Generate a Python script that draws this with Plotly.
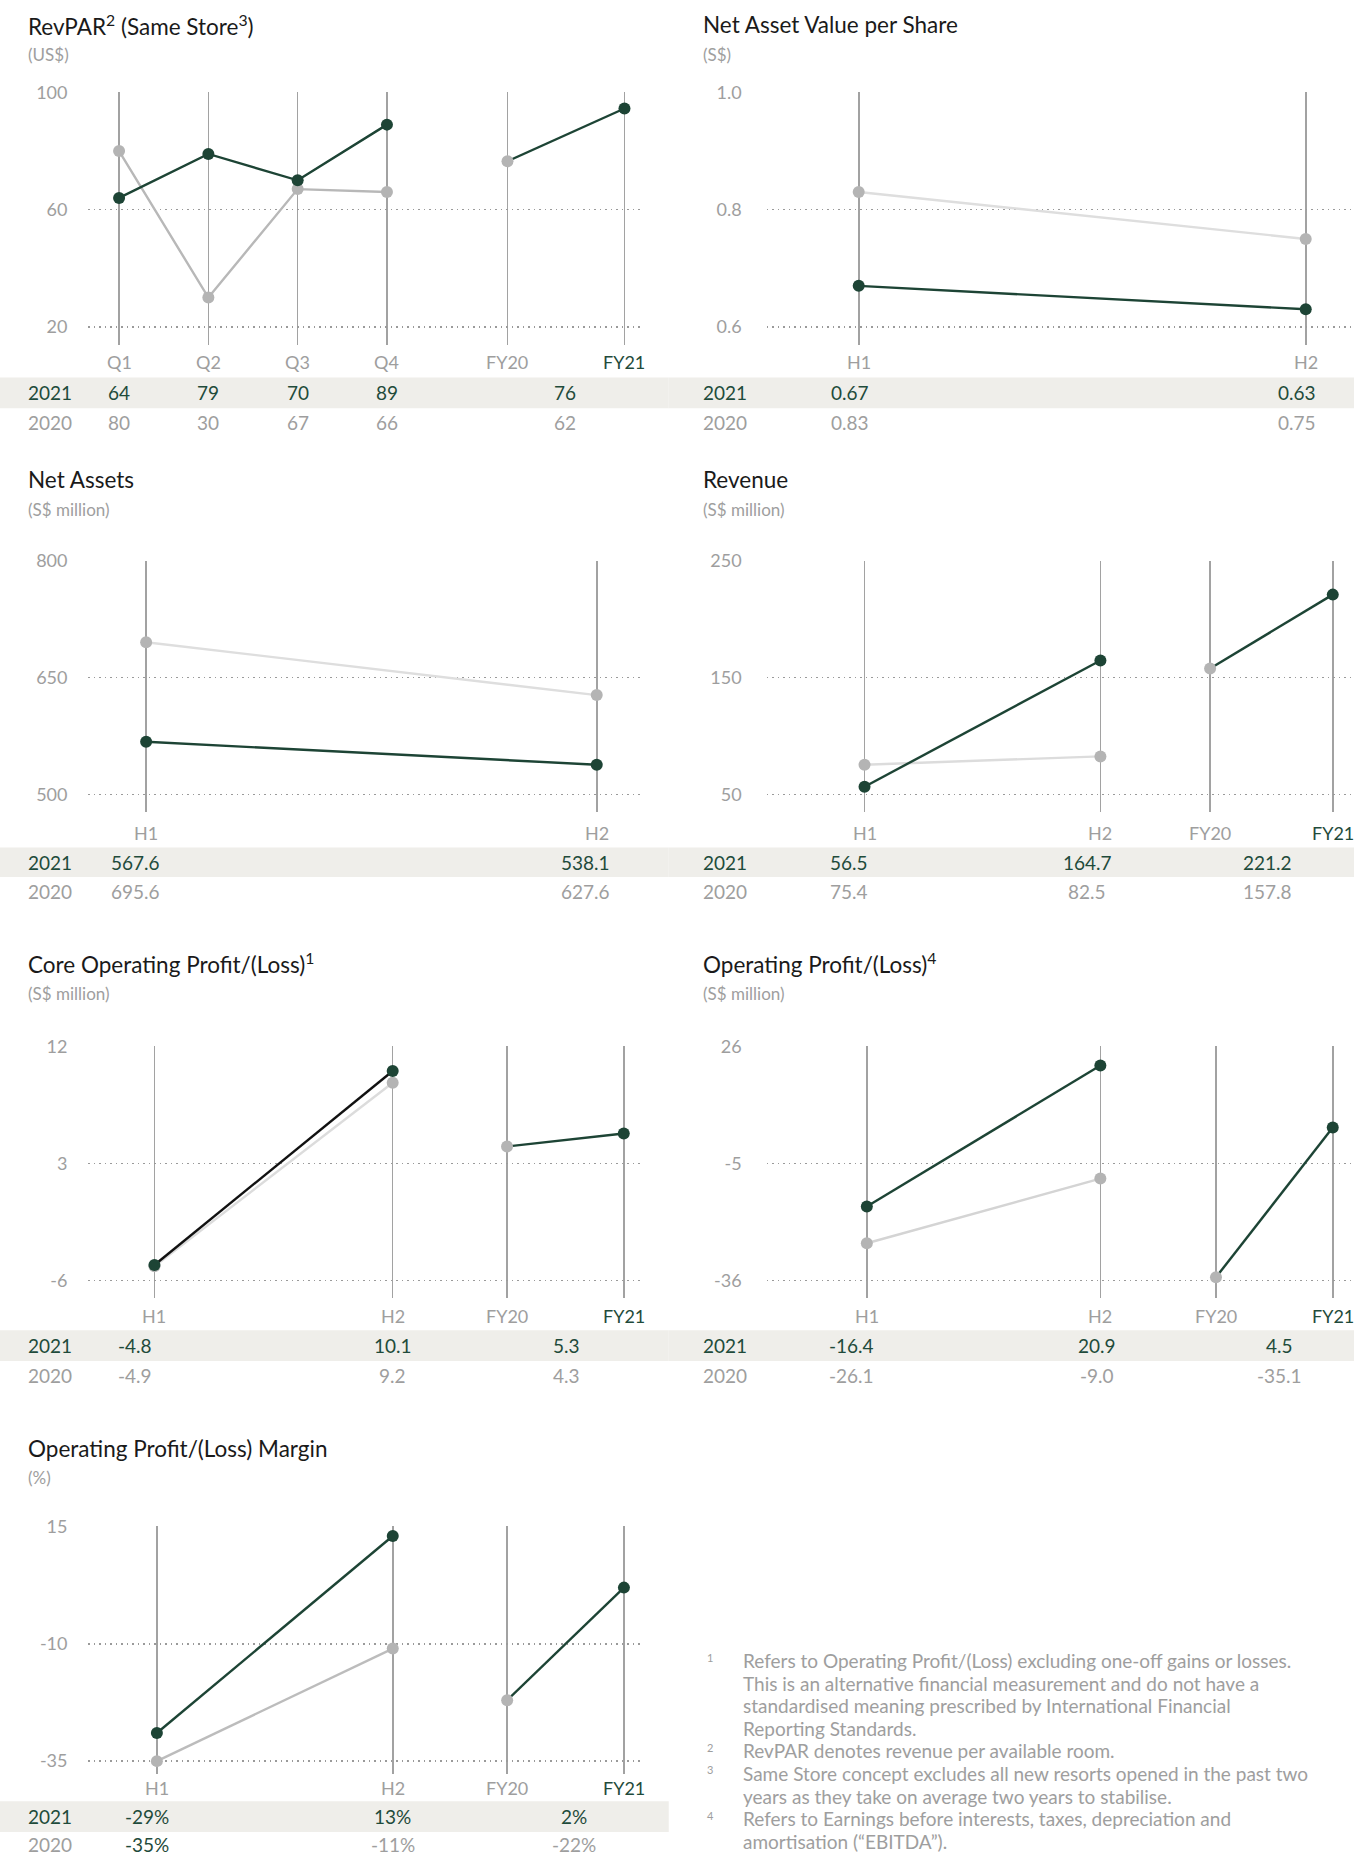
import plotly.graph_objects as go

# ---------------- data ----------------
revpar_cats = ["Q1", "Q2", "Q3", "Q4", "FY20", "FY21"]
revpar_2021 = [64, 79, 70, 89]
revpar_2020 = [80, 30, 67, 66]
revpar_fy = [76.5, 94.5]          # FY20, FY21 as plotted
revpar_row_2021 = ["64", "79", "70", "89", "76"]
revpar_row_2020 = ["80", "30", "67", "66", "62"]

nav_cats = ["H1", "H2"]
nav_2021 = [0.67, 0.63]
nav_2020 = [0.83, 0.75]
nav_row_2021 = ["0.67", "0.63"]
nav_row_2020 = ["0.83", "0.75"]

na_cats = ["H1", "H2"]
na_2021 = [567.6, 538.1]
na_2020 = [695.6, 627.6]
na_row_2021 = ["567.6", "538.1"]
na_row_2020 = ["695.6", "627.6"]

rev_cats = ["H1", "H2", "FY20", "FY21"]
rev_2021 = [56.5, 164.7]
rev_2020 = [75.4, 82.5]
rev_fy = [157.8, 221.2]
rev_row_2021 = ["56.5", "164.7", "221.2"]
rev_row_2020 = ["75.4", "82.5", "157.8"]

core_cats = ["H1", "H2", "FY20", "FY21"]
core_2021 = [-4.8, 10.1]
core_2020 = [-4.9, 9.2]
core_fy = [4.3, 5.3]
core_row_2021 = ["-4.8", "10.1", "5.3"]
core_row_2020 = ["-4.9", "9.2", "4.3"]

op_cats = ["H1", "H2", "FY20", "FY21"]
op_2021 = [-16.4, 20.9]
op_2020 = [-26.1, -9.0]
op_fy = [-35.1, 4.5]
op_row_2021 = ["-16.4", "20.9", "4.5"]
op_row_2020 = ["-26.1", "-9.0", "-35.1"]

mar_cats = ["H1", "H2", "FY20", "FY21"]
mar_2021 = [-29, 13]
mar_2020 = [-35, -11]
mar_fy = [-22, 2]
mar_row_2021 = ["-29%", "13%", "2%"]
mar_row_2020 = ["-35%", "-11%", "-22%"]

footnotes = [
    ("1", ["Refers to Operating Profit/(Loss) excluding one-off gains or losses.",
           "This is an alternative financial measurement and do not have a",
           "standardised meaning prescribed by International Financial",
           "Reporting Standards."]),
    ("2", ["RevPAR denotes revenue per available room."]),
    ("3", ["Same Store concept excludes all new resorts opened in the past two",
           "years as they take on average two years to stabilise."]),
    ("4", ["Refers to Earnings before interests, taxes, depreciation and",
           "amortisation (\u201cEBITDA\u201d)."]),
]

# ---------------- style / layout ----------------
W, H = 1354, 1852
BW, BH = 1148.0, 1568.0     # design grid
FONT = "Lato"
GREEN = "#1d4435"
GREEN_TXT = "#1f4b3b"
GRAY_MK = "#b4b4b4"
GRAY_TXT = "#9e9e9e"
VLINE = "#a2a2a2"
DOT = "#9a9a9a"
BAND = "#efeeea"
TITLE = "#1a1a1a"


def fx(x):
    return x / BW


def fy(y):
    yc = y - 8.5 * (1 - y / BH)
    return 1 - yc / BH


COLS = {
    "L": dict(g0=75, g1=543, lab=22, b0=0, b1=567, stand=20),
    "R": dict(g0=650, g1=1148, lab=594, b0=567, b1=1148, stand=24),
}
ROWS = [
    dict(title=20, sub=45, top=77, low=276, vbot=291, xlab=306, bt=319, bb=345, r1=332, r2=357),
    dict(title=405, sub=431, top=474, low=672, vbot=687, xlab=705, bt=717, bb=742, r1=730, r2=754),
    dict(title=815, sub=841, top=885, low=1084, vbot=1099, xlab=1114, bt=1126, bb=1152, r1=1139, r2=1164),
    dict(title=1226, sub=1251, top=1292, low=1491, vbot=1502, xlab=1514, bt=1525, bb=1551, r1=1538, r2=1562),
]

panels = [
    dict(col="L", row=0, title="RevPAR<sup>2</sup> (Same Store<sup>3</sup>)", sub="(US$)",
         cats=revpar_cats, slots=[0, 1, 2, 3, 4.35, 5.66], xr=[-0.343, 5.839],
         yt=[20, 60, 100], ytxt=["20", "60", "100"],
         s21=revpar_2021, s20=revpar_2020, fy=revpar_fy,
         tcols=[0, 1, 2, 3, 4.99], t21=revpar_row_2021, t20=revpar_row_2020,
         c20="#b8b8b8", c21=GREEN),
    dict(col="R", row=0, title="Net Asset Value per Share", sub="(S$)",
         cats=nav_cats, slots=[0, 1], xr=[-0.206, 1.108],
         yt=[0.6, 0.8, 1.0], ytxt=["0.6", "0.8", "1.0"],
         s21=nav_2021, s20=nav_2020, fy=None,
         tcols=[-0.02, 0.98], t21=nav_row_2021, t20=nav_row_2020,
         c20="#dedede", c21=GREEN),
    dict(col="L", row=1, title="Net Assets", sub="(S$ million)",
         cats=na_cats, slots=[0, 1], xr=[-0.128, 1.097],
         yt=[500, 650, 800], ytxt=["500", "650", "800"],
         s21=na_2021, s20=na_2020, fy=None,
         tcols=[-0.024, 0.974], t21=na_row_2021, t20=na_row_2020,
         c20="#dedede", c21=GREEN),
    dict(col="R", row=1, title="Revenue", sub="(S$ million)",
         cats=rev_cats, slots=[0, 1, 1.465, 1.985], xr=[-0.415, 2.075],
         yt=[50, 150, 250], ytxt=["50", "150", "250"],
         s21=rev_2021, s20=rev_2020, fy=rev_fy,
         tcols=[-0.065, 0.945, 1.71], t21=rev_row_2021, t20=rev_row_2020,
         c20="#dcdcdc", c21=GREEN),
    dict(col="L", row=2, title="Core Operating Profit/(Loss)<sup>1</sup>", sub="(S$ million)",
         cats=core_cats, slots=[0, 1, 1.48, 1.97], xr=[-0.277, 2.04],
         yt=[-6, 3, 12], ytxt=["-6", "3", "12"],
         s21=core_2021, s20=core_2020, fy=core_fy,
         tcols=[-0.08, 1.0, 1.73], t21=core_row_2021, t20=core_row_2020,
         c20="#dcdcdc", c21="#111111"),
    dict(col="R", row=2, title="Operating Profit/(Loss)<sup>4</sup>", sub="(S$ million)",
         cats=op_cats, slots=[0, 1, 1.495, 1.995], xr=[-0.429, 2.086],
         yt=[-36, -5, 26], ytxt=["-36", "-5", "26"],
         s21=op_2021, s20=op_2020, fy=op_fy,
         tcols=[-0.066, 0.985, 1.765], t21=op_row_2021, t20=op_row_2020,
         c20="#d4d4d4", c21=GREEN),
    dict(col="L", row=3, title="Operating Profit/(Loss) Margin", sub="(%)",
         cats=mar_cats, slots=[0, 1, 1.485, 1.98], xr=[-0.29, 2.05],
         yt=[-35, -10, 15], ytxt=["-35", "-10", "15"],
         s21=mar_2021, s20=mar_2020, fy=mar_fy,
         tcols=[-0.04, 1.0, 1.77], t21=mar_row_2021, t20=mar_row_2020,
         t20_colors=[GREEN_TXT, GRAY_TXT, GRAY_TXT],
         c20="#bcbcbc", c21=GREEN),
]

fig = go.Figure()
annotations = []
shapes = []
layout_axes = {}

for i, p in enumerate(panels, start=1):
    c = COLS[p["col"]]
    r = ROWS[p["row"]]
    xa = "x" if i == 1 else f"x{i}"
    ya = "y" if i == 1 else f"y{i}"
    xkey = "xaxis" if i == 1 else f"xaxis{i}"
    ykey = "yaxis" if i == 1 else f"yaxis{i}"

    lo, hi = p["yt"][0], p["yt"][-1]
    ext = (r["vbot"] - r["low"]) / (r["low"] - r["top"]) * (hi - lo)
    yrange = [lo - ext, hi + (hi - lo) * 0.002]

    layout_axes[xkey] = dict(
        domain=[fx(c["g0"]), fx(c["g1"])], range=p["xr"], anchor=ya,
        tickmode="array", tickvals=p["slots"], showticklabels=False,
        showgrid=True, gridcolor=VLINE, gridwidth=1.6, zeroline=False,
        showline=False, ticks="", fixedrange=True,
    )
    layout_axes[ykey] = dict(
        domain=[fy(r["vbot"]), fy(r["top"])], range=yrange, anchor=xa,
        tickmode="array", tickvals=p["yt"], ticktext=p["ytxt"],
        showgrid=True, gridcolor=DOT, gridwidth=1.5, griddash="1.5px,4px",
        zeroline=False, showline=False, ticks="",
        ticklabelstandoff=c["stand"],
        tickfont=dict(family=FONT, size=18, color=GRAY_TXT), fixedrange=True,
    )

    n = len(p["s21"])
    xs = p["slots"][:n]
    # 2020 series
    fig.add_trace(go.Scatter(
        x=xs, y=p["s20"], xaxis=xa, yaxis=ya, mode="lines+markers",
        line=dict(color=p["c20"], width=2.4),
        marker=dict(color=GRAY_MK, size=12), hoverinfo="skip",
        cliponaxis=False, showlegend=False))
    # 2021 series
    fig.add_trace(go.Scatter(
        x=xs, y=p["s21"], xaxis=xa, yaxis=ya, mode="lines+markers",
        line=dict(color=p["c21"], width=2.4),
        marker=dict(color=GREEN, size=12), hoverinfo="skip",
        cliponaxis=False, showlegend=False))
    # full-year comparison
    if p["fy"] is not None:
        fig.add_trace(go.Scatter(
            x=p["slots"][n:n + 2], y=p["fy"], xaxis=xa, yaxis=ya,
            mode="lines+markers", line=dict(color=GREEN, width=2.4),
            marker=dict(color=[GRAY_MK, GREEN], size=12), hoverinfo="skip",
            cliponaxis=False, showlegend=False))

    # x category labels
    for s, cat in zip(p["slots"], p["cats"]):
        annotations.append(dict(
            x=s, y=fy(r["xlab"]), xref=xa, yref="paper", text=cat,
            showarrow=False, xanchor="center", yanchor="middle",
            font=dict(family=FONT, size=18, color=GREEN_TXT if cat == "FY21" else GRAY_TXT)))

    # title / subtitle
    annotations.append(dict(
        x=fx(c["lab"]), y=fy(r["title"]), xref="paper", yref="paper",
        text=p["title"], showarrow=False, xanchor="left", yanchor="middle",
        font=dict(family=FONT, size=22.5, color=TITLE)))
    annotations.append(dict(
        x=fx(c["lab"]), y=fy(r["sub"]), xref="paper", yref="paper",
        text=p["sub"], showarrow=False, xanchor="left", yanchor="middle",
        font=dict(family=FONT, size=17, color=GRAY_TXT)))

    # table band
    shapes.append(dict(
        type="rect", xref="paper", yref="paper", layer="below",
        x0=fx(c["b0"]), x1=fx(c["b1"]), y0=fy(r["bb"]), y1=fy(r["bt"]),
        fillcolor=BAND, line=dict(width=0)))
    # row labels
    annotations.append(dict(
        x=fx(c["lab"]), y=fy(r["r1"]), xref="paper", yref="paper", text="2021",
        showarrow=False, xanchor="left", yanchor="middle",
        font=dict(family=FONT, size=19, color=GREEN_TXT)))
    annotations.append(dict(
        x=fx(c["lab"]), y=fy(r["r2"]), xref="paper", yref="paper", text="2020",
        showarrow=False, xanchor="left", yanchor="middle",
        font=dict(family=FONT, size=19, color=GRAY_TXT)))
    t20c = p.get("t20_colors", [GRAY_TXT] * len(p["t20"]))
    for tc, v21, v20, col20 in zip(p["tcols"], p["t21"], p["t20"], t20c):
        annotations.append(dict(
            x=tc, y=fy(r["r1"]), xref=xa, yref="paper", text=v21,
            showarrow=False, xanchor="center", yanchor="middle",
            font=dict(family=FONT, size=19, color=GREEN_TXT)))
        annotations.append(dict(
            x=tc, y=fy(r["r2"]), xref=xa, yref="paper", text=v20,
            showarrow=False, xanchor="center", yanchor="middle",
            font=dict(family=FONT, size=19, color=col20)))

# footnotes
fy_line = 1406
for num, lines in footnotes:
    annotations.append(dict(
        x=fx(598), y=fy(fy_line - 3), xref="paper", yref="paper", text=num,
        showarrow=False, xanchor="left", yanchor="middle",
        font=dict(family=FONT, size=11, color=GRAY_TXT)))
    for ln in lines:
        annotations.append(dict(
            x=fx(628), y=fy(fy_line), xref="paper", yref="paper", text=ln,
            showarrow=False, xanchor="left", yanchor="middle",
            font=dict(family=FONT, size=19, color=GRAY_TXT)))
        fy_line += 19.1

fig.update_layout(
    width=W, height=H, margin=dict(l=0, r=0, t=0, b=0),
    paper_bgcolor="white", plot_bgcolor="rgba(0,0,0,0)",
    showlegend=False, annotations=annotations, shapes=shapes,
    font=dict(family=FONT),
    **layout_axes,
)

fig.write_html("out.html", config={"displayModeBar": False, "staticPlot": True})

# remove the default page margin so the figure sits exactly in the window
with open("out.html", "r", encoding="utf-8") as f:
    html = f.read()
style = "<style>html,body{margin:0;padding:0;overflow:hidden;background:#fff;}</style>"
if "<head>" in html:
    html = html.replace("<head>", "<head>" + style, 1)
else:
    html = style + html
with open("out.html", "w", encoding="utf-8") as f:
    f.write(html)
